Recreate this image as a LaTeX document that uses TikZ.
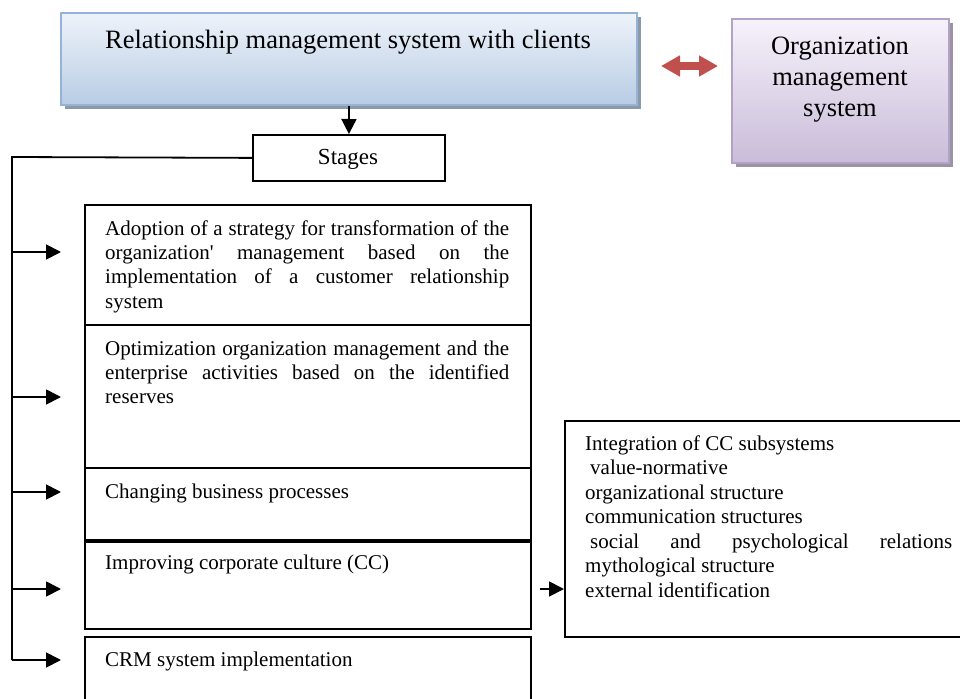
\documentclass[tikz,border=0pt]{standalone}
\usepackage{fontspec}
\setmainfont{Liberation Serif}
\usetikzlibrary{arrows.meta}
\definecolor{blueB}{HTML}{95B3D7}
\definecolor{blueTop}{HTML}{EEF3FA}
\definecolor{blueBot}{HTML}{B8CCE4}
\definecolor{blueShadow}{HTML}{8C99A8}
\definecolor{purB}{HTML}{B3A2C7}
\definecolor{purTop}{HTML}{F6F2FA}
\definecolor{purBot}{HTML}{C9BCD9}
\definecolor{purShadow}{HTML}{9B93A5}
\definecolor{redA}{HTML}{C0504D}
\newcommand\bodyf{\fontsize{21}{24.5}\selectfont}
\newcommand\bigf{\fontsize{26.5}{31}\selectfont}
\newcommand\stf{\fontsize{23}{27}\selectfont}
\begin{document}
\begin{tikzpicture}[x=1pt,y=-1pt,
  stagebox/.style={draw=black, line width=1.8pt, fill=white, anchor=north west, inner sep=0pt, minimum width=446pt},
  txt/.style={anchor=base west, inner sep=0pt, font=\bodyf},
  arr/.style={line width=1.8pt, -{Triangle[length=15pt,width=15pt]}}]
\useasboundingbox (0,0) rectangle (960,698);

% top box
\fill[blueShadow] (65,17) rectangle (641,109);
\node[draw=blueB, line width=2pt, top color=blueTop, bottom color=blueBot, anchor=north west, inner sep=0pt, minimum width=576pt, minimum height=92pt] (rms) at (60,12) {};
\node[anchor=base, inner sep=0pt, font=\bigf] (rmst) at (348,49) {Relationship management system with clients};

% organization box
\fill[purShadow] (736,23) rectangle (953,167);
\node[draw=purB, line width=2pt, top color=purTop, bottom color=purBot, anchor=north west, inner sep=0pt, minimum width=217pt, minimum height=144pt] (oms) at (731,18) {};
\node[anchor=base, inner sep=0pt, font=\bigf] (om1) at (840,55) {Organization};
\node[anchor=base, inner sep=0pt, font=\bigf] (om2) at (840,86) {management};
\node[anchor=base, inner sep=0pt, font=\bigf] (om3) at (840,117) {system};

% red double arrow
\coordinate (ra) at (661,66);
\coordinate (rb) at (718,66);
\draw[redA, line width=8pt, {Triangle[length=19pt,width=20pt]}-{Triangle[length=19pt,width=20pt]}] (ra) -- (rb);

% stages
\node[draw=black, line width=1.8pt, fill=white, anchor=north west, inner sep=0pt, minimum width=192pt, minimum height=46pt] (st) at (252,134) {};
\node[anchor=base, inner sep=0pt, font=\stf] (stt) at (348,164) {Stages};
\draw[arr] (rms.south) -- (st.north);

% stage boxes
\node[stagebox, minimum height=120pt] (s1) at (84,204) {};
\node[stagebox, minimum height=143pt] (s2) at (84,324) {};
\node[stagebox, minimum height=72pt] (s3) at (84,467) {};
\node[stagebox, minimum height=87pt] (s4) at (84,541) {};
\node[stagebox, minimum height=80pt] (s5) at (84,636) {};

% texts
\node[txt] (s1a) at (105,235) {\makebox[404pt][s]{Adoption of a strategy for transformation of the}};
\node[txt] (s1b) at (105,259) {\makebox[404pt][s]{organization\textquotesingle{} management based on the}};
\node[txt] (s1c) at (105,283) {\makebox[404pt][s]{implementation of a customer relationship}};
\node[txt] (s1d) at (105,308) {system};
\node[txt] (s2a) at (105,355) {\makebox[404pt][s]{Optimization organization management and the}};
\node[txt] (s2b) at (105,379) {\makebox[404pt][s]{enterprise activities based on the identified}};
\node[txt] (s2c) at (105,403) {reserves};
\node[txt] (s3a) at (105,498) {Changing business processes};
\node[txt] (s4a) at (105,569) {Improving corporate culture (CC)};
\node[txt] (s5a) at (105,666) {CRM system implementation};

% right box
\node[draw=black, line width=1.8pt, fill=white, anchor=north west, inner sep=0pt, minimum width=400pt, minimum height=216pt] (cc) at (564,420) {};
\node[txt] (c1) at (585,450) {Integration of CC subsystems};
\node[txt] (c2) at (590,474) {value-normative};
\node[txt] (c3) at (585,499) {organizational structure};
\node[txt] (c4) at (585,523) {communication structures};
\node[txt] (c5) at (590,548) {\makebox[362pt][s]{social and psychological relations}};
\node[txt] (c6) at (585,572) {mythological structure};
\node[txt] (c7) at (585,597) {external identification};

% trunk and arrows
\coordinate (t0) at (12,157);
\coordinate (t1) at (12,252);
\coordinate (t2) at (12,397);
\coordinate (t3) at (12,492);
\coordinate (t4) at (12,589);
\coordinate (t5) at (12,660);
\coordinate (e1) at (61,252);
\coordinate (e2) at (61,397);
\coordinate (e3) at (61,492);
\coordinate (e4) at (61,589);
\coordinate (e5) at (61,660);
\draw[line width=1.8pt] (st.west) -- (t0) -- (t5);
\draw[arr] (t1) -- (e1);
\draw[arr] (t2) -- (e2);
\draw[arr] (t3) -- (e3);
\draw[arr] (t4) -- (e4);
\draw[arr] (t5) -- (e5);
\coordinate (ccs) at (540,589);
\draw[arr] (ccs) -- (cc.west |- ccs);
\end{tikzpicture}
\end{document}
